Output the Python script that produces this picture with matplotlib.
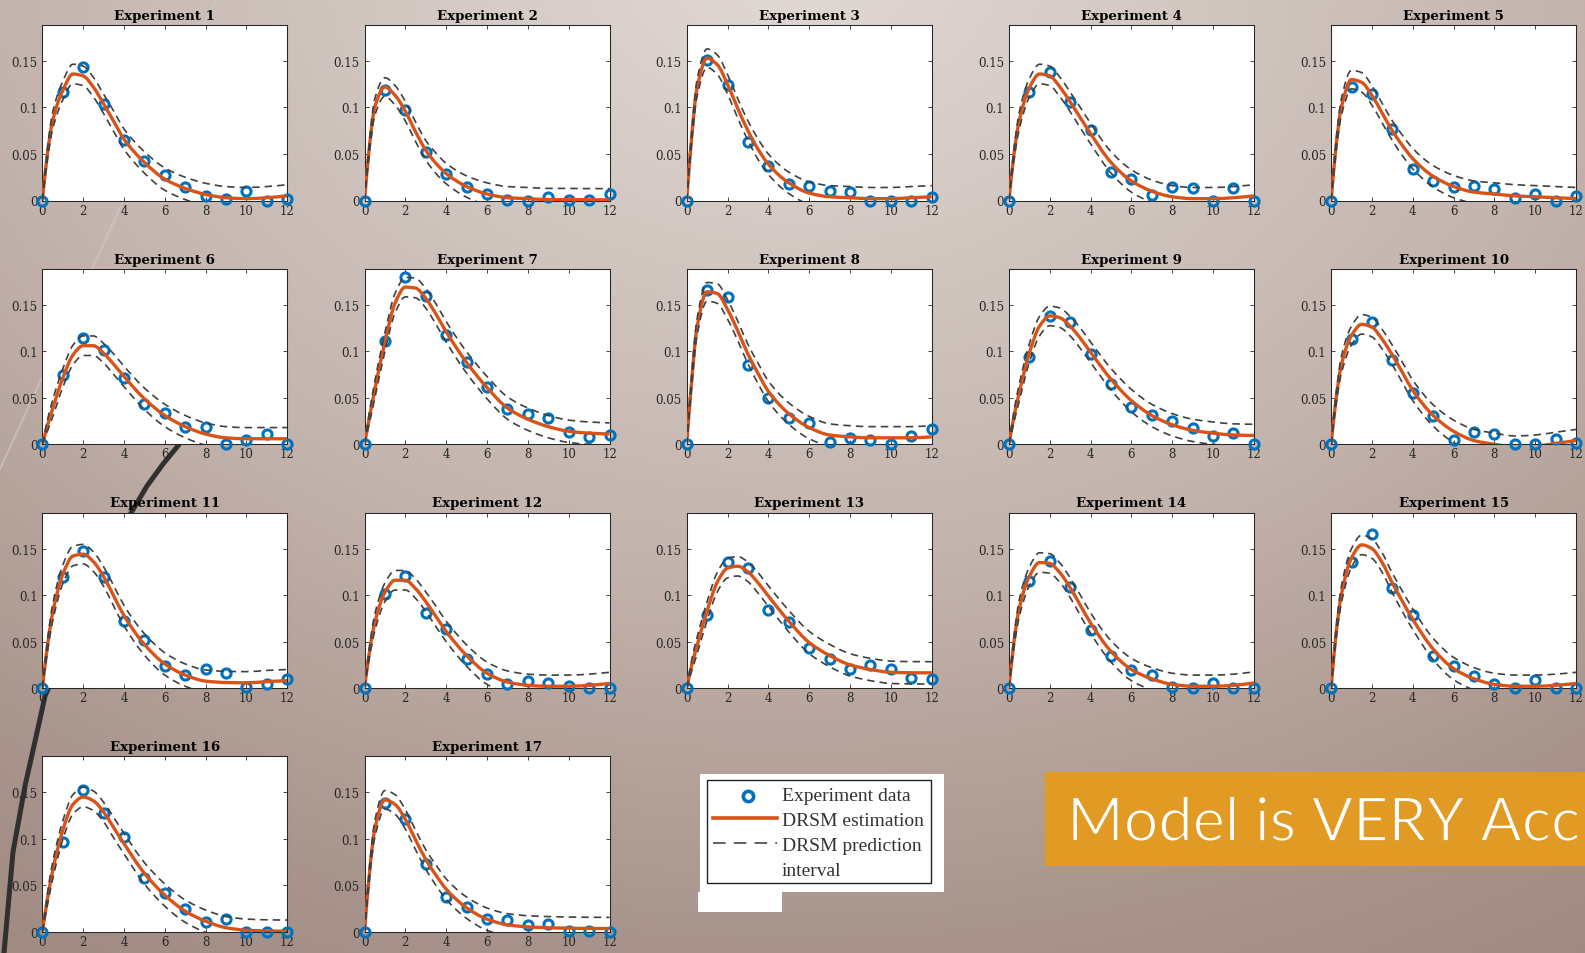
import numpy as np
import matplotlib
matplotlib.use("Agg")
import matplotlib.pyplot as plt
import matplotlib.patheffects as pe
from matplotlib.patches import Rectangle, PathPatch
from matplotlib.path import Path

plt.rcParams['font.family'] = ['DejaVu Serif']

# ---------------- data ----------------
t_obs = [0, 1, 2, 3, 4, 5, 6, 7, 8, 9, 10, 11, 12]
t_est = [0, 0.25, 0.5, 1, 1.5, 2, 2.5, 3, 3.5, 4, 5, 6, 7, 8, 9, 10, 11, 12]
band_half = [0, 0.006, 0.009, 0.010, 0.0105, 0.0105, 0.0105, 0.0105, 0.011, 0.011,
             0.0115, 0.012, 0.012, 0.012, 0.012, 0.012, 0.012, 0.012]

exp1_obs = [0, 0.117, 0.144, 0.104, 0.065, 0.043, 0.027, 0.015, 0.005, 0.002, 0.010, 0.0, 0.002]
exp1_est = [0, 0.05, 0.085, 0.118, 0.136, 0.134, 0.122, 0.104, 0.085, 0.066, 0.041, 0.023, 0.013, 0.0065, 0.003, 0.002, 0.003, 0.005]
exp2_obs = [0, 0.119, 0.097, 0.052, 0.029, 0.014, 0.0075, 0.001, 0.0, 0.004, 0.001, 0.001, 0.0075]
exp2_est = [0, 0.06, 0.1, 0.122, 0.113, 0.096, 0.074, 0.054, 0.040, 0.029, 0.015, 0.007, 0.003, 0.002, 0.001, 0.001, 0.0008, 0.0008]
exp3_obs = [0, 0.151, 0.124, 0.063, 0.037, 0.018, 0.0155, 0.010, 0.009, 0.0, 0.0, 0.0, 0.004]
exp3_est = [0, 0.07, 0.12, 0.153, 0.146, 0.125, 0.099, 0.075, 0.055, 0.039, 0.019, 0.008, 0.004, 0.003, 0.002, 0.002, 0.003, 0.004]
exp4_obs = [0, 0.1166, 0.138, 0.106, 0.076, 0.031, 0.0226, 0.0057, 0.015, 0.013, 0.0, 0.013, 0.0]
exp4_est = [0, 0.05, 0.085, 0.121, 0.136, 0.134, 0.122, 0.106, 0.089, 0.072, 0.041, 0.021, 0.010, 0.004, 0.002, 0.002, 0.003, 0.005]
exp5_obs = [0, 0.122, 0.114, 0.077, 0.034, 0.0215, 0.0147, 0.0154, 0.0126, 0.003, 0.0065, 0.0, 0.0047]
exp5_est = [0, 0.06, 0.1, 0.13, 0.127, 0.113, 0.094, 0.075, 0.059, 0.045, 0.026, 0.015, 0.009, 0.007, 0.005, 0.004, 0.003, 0.002]
exp6_obs = [0, 0.0746, 0.114, 0.101, 0.071, 0.0436, 0.034, 0.019, 0.019, 0.0007, 0.005, 0.011, 0.0]
exp6_est = [0, 0.02, 0.038, 0.071, 0.096, 0.106, 0.106, 0.098, 0.086, 0.073, 0.049, 0.031, 0.019, 0.011, 0.007, 0.006, 0.006, 0.006]
exp7_obs = [0, 0.1107, 0.1796, 0.159, 0.1176, 0.088, 0.0617, 0.0375, 0.0325, 0.0278, 0.013, 0.008, 0.0097]
exp7_est = [0, 0.03, 0.058, 0.11, 0.152, 0.169, 0.168, 0.157, 0.14, 0.121, 0.088, 0.061, 0.039, 0.027, 0.019, 0.014, 0.012, 0.011]
exp8_obs = [0, 0.1658, 0.158, 0.0854, 0.050, 0.028, 0.023, 0.003, 0.007, 0.005, 0.0, 0.0086, 0.0169]
exp8_est = [0, 0.07, 0.125, 0.164, 0.162, 0.145, 0.122, 0.097, 0.076, 0.057, 0.033, 0.018, 0.010, 0.008, 0.007, 0.007, 0.007, 0.008]
exp9_obs = [0, 0.094, 0.138, 0.131, 0.097, 0.0646, 0.0405, 0.032, 0.025, 0.017, 0.009, 0.012, 0.0]
exp9_est = [0, 0.03, 0.055, 0.098, 0.127, 0.138, 0.136, 0.127, 0.114, 0.099, 0.070, 0.047, 0.031, 0.021, 0.015, 0.012, 0.010, 0.0095]
exp10_obs = [0, 0.1137, 0.132, 0.0908, 0.0549, 0.0305, 0.0043, 0.0133, 0.0108, 0.0, 0.0, 0.0054, 0.001]
exp10_est = [0, 0.05, 0.085, 0.117, 0.129, 0.126, 0.113, 0.096, 0.077, 0.058, 0.031, 0.014, 0.004, 0.0, -0.003, -0.002, 0.001, 0.004]
exp11_obs = [0, 0.1197, 0.1475, 0.1197, 0.0723, 0.052, 0.0235, 0.0146, 0.0207, 0.0157, 0.0007, 0.0046, 0.010]
exp11_est = [0, 0.045, 0.08, 0.122, 0.142, 0.144, 0.136, 0.12, 0.099, 0.078, 0.047, 0.026, 0.014, 0.0075, 0.006, 0.0057, 0.007, 0.008]
exp12_obs = [0, 0.101, 0.120, 0.0805, 0.0634, 0.0313, 0.0153, 0.004, 0.0075, 0.0057, 0.002, 0.0, 0.0]
exp12_est = [0, 0.04, 0.07, 0.103, 0.116, 0.116, 0.107, 0.093, 0.077, 0.061, 0.035, 0.016, 0.0065, 0.003, 0.002, 0.002, 0.003, 0.005]
exp13_obs = [0, 0.0787, 0.1357, 0.129, 0.084, 0.0716, 0.043, 0.031, 0.0207, 0.0246, 0.0207, 0.011, 0.010]
exp13_est = [0, 0.025, 0.045, 0.083, 0.114, 0.129, 0.131, 0.125, 0.113, 0.099, 0.072, 0.049, 0.035, 0.025, 0.020, 0.017, 0.0165, 0.0164]
exp14_obs = [0, 0.115, 0.1368, 0.109, 0.062, 0.035, 0.019, 0.0146, 0.001, 0.0, 0.005, 0.0, 0.0]
exp14_est = [0, 0.05, 0.085, 0.12, 0.135, 0.134, 0.124, 0.108, 0.089, 0.070, 0.0395, 0.020, 0.010, 0.004, 0.002, 0.002, 0.003, 0.0055]
exp15_obs = [0, 0.1357, 0.1657, 0.1073, 0.0788, 0.035, 0.0235, 0.0135, 0.004, 0.0, 0.0082, 0.0, 0.0]
exp15_est = [0, 0.06, 0.1, 0.14, 0.154, 0.150, 0.135, 0.113, 0.093, 0.074, 0.042, 0.021, 0.010, 0.004, 0.002, 0.002, 0.003, 0.005]
exp16_obs = [0, 0.0968, 0.1525, 0.1277, 0.1025, 0.0576, 0.0414, 0.025, 0.0108, 0.0144, 0.0, 0.0, 0.0]
exp16_est = [0, 0.035, 0.065, 0.109, 0.137, 0.145, 0.141, 0.129, 0.112, 0.095, 0.063, 0.0396, 0.0223, 0.0115, 0.0045, 0.0018, 0.001, 0.0007]
exp17_obs = [0, 0.1388, 0.1209, 0.073, 0.0378, 0.027, 0.0137, 0.0126, 0.0076, 0.0083, 0.001, 0.001, 0.0]
exp17_est = [0, 0.065, 0.11, 0.142, 0.137, 0.121, 0.099, 0.078, 0.061, 0.046, 0.026, 0.0137, 0.0076, 0.0054, 0.0045, 0.004, 0.0037, 0.0036]

titles = [f"Experiment {i}" for i in range(1, 18)]
observed = [exp1_obs, exp2_obs, exp3_obs, exp4_obs, exp5_obs, exp6_obs, exp7_obs, exp8_obs, exp9_obs,
            exp10_obs, exp11_obs, exp12_obs, exp13_obs, exp14_obs, exp15_obs, exp16_obs, exp17_obs]
estimated = [exp1_est, exp2_est, exp3_est, exp4_est, exp5_est, exp6_est, exp7_est, exp8_est, exp9_est,
             exp10_est, exp11_est, exp12_est, exp13_est, exp14_est, exp15_est, exp16_est, exp17_est]

x_ticks = [0, 2, 4, 6, 8, 10, 12]
y_ticks = [0, 0.05, 0.1, 0.15]
y_tick_labels = ["0", "0.05", "0.1", "0.15"]
legend_labels = ["Experiment data", "DRSM estimation", "DRSM prediction", "interval"]
banner_text = "Model is VERY Accurate"

# ---------------- styles ----------------
W, H = 1585, 954
C_DATA = '#0072BD'
C_EST = '#D95319'
C_PRED = '#404040'
C_BANNER = '#E19B24'
DASH = (0, (4.5, 3.0))


def smooth_path(x, y):
    """Cubic Bezier path through the given points (shape-preserving tangents)."""
    x = np.asarray(x, float)
    y = np.asarray(y, float)
    h = np.diff(x)
    dl = np.diff(y) / h
    m = np.zeros_like(y)
    m[0], m[-1] = dl[0], dl[-1]
    for k in range(1, len(x) - 1):
        if dl[k - 1] * dl[k] > 0:
            w1 = 2 * h[k] + h[k - 1]
            w2 = h[k] + 2 * h[k - 1]
            m[k] = (w1 + w2) / (w1 / dl[k - 1] + w2 / dl[k])
    verts = [(x[0], y[0])]
    codes = [Path.MOVETO]
    for k in range(len(x) - 1):
        verts += [(x[k] + h[k] / 3, y[k] + m[k] * h[k] / 3),
                  (x[k + 1] - h[k] / 3, y[k + 1] - m[k + 1] * h[k] / 3),
                  (x[k + 1], y[k + 1])]
        codes += [Path.CURVE4] * 3
    return Path(verts, codes)


fig = plt.figure(figsize=(W / 100, H / 100), dpi=100)

# background gradient (slide)
bg = fig.add_axes([0, 0, 1, 1], zorder=0)
yy, xx = np.mgrid[0:H, 0:W]
d = np.sqrt(((xx - 790) / 1300.0) ** 2 + ((yy + 50) / 1000.0) ** 2)
stops = [0, 0.6, 1.0, 1.3]
rgb = np.dstack([np.interp(d, stops, [226, 196, 168, 154]),
                 np.interp(d, stops, [218, 181, 148, 132]),
                 np.interp(d, stops, [214, 174, 140, 124])]) / 255.0
bg.imshow(rgb, extent=[0, W, H, 0], aspect='auto', interpolation='bilinear')
bg.set_xlim(0, W)
bg.set_ylim(H, 0)
bg.axis('off')

# decorative slide lines
bg.plot([216, 0], [0, 470], color='#d3c8c3', lw=1.5, alpha=0.6)
arc_x = [205, 190, 177, 163, 147, 131, 100, 70, 45, 40, 25, 13, 7, 4]
arc_y = [405, 430, 448, 465, 487, 514, 575, 640, 697, 720, 787, 853, 920, 954]
bg.plot(arc_x, arc_y, color='#303030', lw=3.6, solid_capstyle='round')

# ---------------- subplots ----------------
ax_w, ax_h = 245, 175.5
for i in range(17):
    r, c = divmod(i, 5)
    left = 42.3 + c * 322.2
    top = 26 + r * 243.8
    ax = fig.add_axes([left / W, 1 - (top + ax_h) / H, ax_w / W, ax_h / H], zorder=2)
    ax.set_facecolor('white')
    est = np.array(estimated[i])
    band = np.array(band_half)
    ax.plot(t_obs, observed[i], 'o', mfc='none', mec=C_DATA, ms=6.6, mew=2.2,
            clip_on=False, zorder=3)
    ax.add_patch(PathPatch(smooth_path(t_est, est), fill=False, edgecolor=C_EST,
                           lw=2.4, zorder=4, capstyle='butt'))
    for sgn in (1, -1):
        ax.add_patch(PathPatch(smooth_path(t_est, est + sgn * band), fill=False,
                               edgecolor=C_PRED, lw=1.2, ls=DASH, zorder=5))
    ax.set_xlim(0, 12)
    ax.set_ylim(0, 0.1887)
    ax.set_xticks(x_ticks)
    ax.set_xticklabels([str(v) for v in x_ticks])
    ax.set_yticks(y_ticks)
    ax.set_yticklabels(y_tick_labels)
    ax.tick_params(direction='in', length=3, width=0.6, top=True, right=True,
                   labelsize=8.5, color='#262626', labelcolor='#262626')
    ax.tick_params(axis='x', pad=2.2)
    ax.tick_params(axis='y', pad=3.5)
    for sp in ax.spines.values():
        sp.set_linewidth(0.75)
        sp.set_color('#262626')
    ax.set_title(titles[i], fontsize=9.6, fontweight='bold', pad=4.5, color='black')

# ---------------- legend (pasted box) ----------------
bg.add_patch(Rectangle((700, 775), 244, 118, facecolor='white', edgecolor='none', zorder=3))
bg.add_patch(Rectangle((698, 893), 84, 20, facecolor='white', edgecolor='none', zorder=3))
bg.add_patch(Rectangle((707, 781), 224, 103, facecolor='none', edgecolor='#222222', lw=1.0, zorder=4))
bg.plot([748], [797], 'o', mfc='none', mec=C_DATA, ms=7.4, mew=2.6, zorder=5)
bg.plot([713, 777], [819, 819], color=C_EST, lw=2.6, zorder=5)
bg.plot([713, 777], [844, 844], color='#555555', lw=1.3, ls=(0, (7, 4.5)), zorder=5)
for k, lab in enumerate(legend_labels):
    bg.text(782, 797 + 25 * k, lab, fontsize=14, family=['Liberation Serif', 'DejaVu Serif'],
            color='#333333', va='center', ha='left', zorder=6)

# ---------------- orange banner ----------------
bg.add_patch(Rectangle((1045, 773), W - 1045 + 5, 94, facecolor=C_BANNER, edgecolor='none', zorder=3))
bg.text(1067, 842, banner_text, fontsize=44, family=['Lato', 'DejaVu Sans'], fontweight='normal',
        color='white', va='baseline', ha='left', zorder=6, clip_on=True,
        path_effects=[pe.Stroke(linewidth=1.3, foreground=C_BANNER)])

fig.savefig('out.png', dpi=100)
